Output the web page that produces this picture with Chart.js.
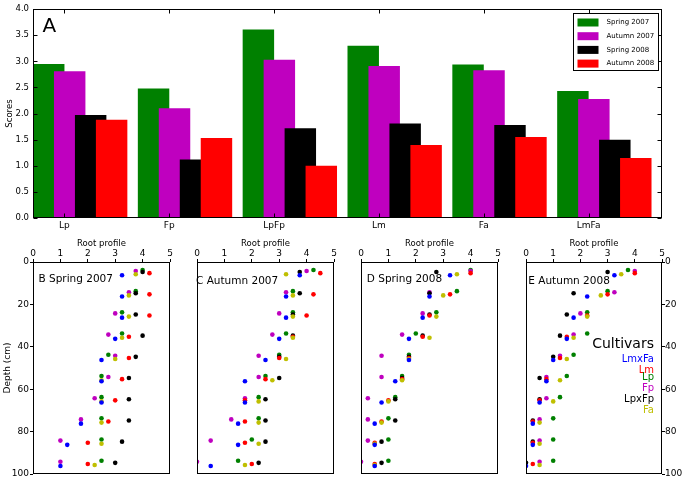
<!DOCTYPE html>
<html>
<head>
<meta charset="utf-8">
<script src="https://cdn.jsdelivr.net/npm/chart.js@4.4.1/dist/chart.umd.min.js"></script>
<style>
  body { margin: 0; background: #fff; }
  #wrap { position: relative; width: 685px; height: 481px; overflow: hidden; background: #fff;
          font-family: "DejaVu Sans", sans-serif; }
  #wrap canvas { position: absolute; }
  .lbl { position: absolute; line-height: 1; white-space: nowrap; color: #000; }
  .cult { position: absolute; right: 31px; line-height: 1; white-space: nowrap; font-size: 10px; text-align: right; }
</style>
</head>
<body>
<div id="wrap">
  <canvas id="barChart" width="685" height="240" style="left:0px;top:0px"></canvas>
  <canvas id="rootB" width="180" height="251" style="left:0px;top:230px"></canvas>
  <canvas id="rootC" width="165" height="251" style="left:180px;top:230px"></canvas>
  <canvas id="rootD" width="165" height="251" style="left:345px;top:230px"></canvas>
  <canvas id="rootE" width="175" height="251" style="left:510px;top:230px"></canvas>

  <div class="lbl" style="left:42.5px;top:15.2px;font-size:20px">A</div>
  <div class="lbl" style="left:38.5px;top:273.3px;font-size:10.5px">B Spring 2007</div>
  <div class="lbl" style="left:196px;top:274.8px;font-size:10.5px">C Autumn 2007</div>
  <div class="lbl" style="left:366.8px;top:273.3px;font-size:10.5px">D Spring 2008</div>
  <div class="lbl" style="left:528.3px;top:275px;font-size:10.5px">E Autumn 2008</div>

  <div class="cult" style="top:335.8px;font-size:14px">Cultivars</div>
  <div class="cult" style="top:353.5px;color:#0000ff">LmxFa</div>
  <div class="cult" style="top:364.7px;color:#ff0000">Lm</div>
  <div class="cult" style="top:372.4px;color:#008000">Lp</div>
  <div class="cult" style="top:382.7px;color:#bf00bf">Fp</div>
  <div class="cult" style="top:394.4px;color:#000000">LpxFp</div>
  <div class="cult" style="top:405.4px;color:#bfbf00">Fa</div>
</div>

<script>
// ---------- panel A : scores per cultivar and season ----------
const categories = ['Lp', 'Fp', 'LpFp', 'Lm', 'Fa', 'LmFa'];
const spring2007 = [2.95, 2.48, 3.61, 3.30, 2.94, 2.43];
const autumn2007 = [2.81, 2.10, 3.03, 2.91, 2.83, 2.28];
const spring2008 = [1.97, 1.12, 1.72, 1.81, 1.78, 1.50];
const autumn2008 = [1.88, 1.53, 1.00, 1.40, 1.55, 1.15];
const seasons = ['Spring 2007', 'Autumn 2007', 'Spring 2008', 'Autumn 2008'];
const seasonColors = ['#008000', '#bf00bf', '#000000', '#ff0000'];
const scoreTicks = [0, 0.5, 1, 1.5, 2, 2.5, 3, 3.5, 4];

// ---------- panels B-E : root profile by depth ----------
const depthLevels = [5, 15, 25, 35, 45, 55, 65, 75, 85, 95];
const depthTicks = [0, 20, 40, 60, 80, 100];
const rootTicks = [0, 1, 2, 3, 4, 5];
const cultivars = ['Lp', 'Fp', 'LpxFp', 'Lm', 'Fa', 'LmxFa'];
const cultivarColors = ['#008000', '#bf00bf', '#000000', '#ff0000', '#bfbf00', '#0000ff'];

// one row per cultivar, same order as `cultivars`
const rootsSpring2007 = [
  [4.0, 3.75, 3.25, 3.25, 2.75, 2.5, 2.5, 2.5, 2.5, 2.5],
  [3.75, 3.5, 3.0, 2.75, 3.0, 2.75, 2.25, 1.75, 1.0, 1.0],
  [4.0, 3.75, 3.75, 4.0, 3.75, 3.5, 3.5, 3.5, 3.25, 3.0],
  [4.25, 4.25, 4.25, 3.5, 3.5, 3.25, 3.0, 2.75, 2.0, 2.0],
  [3.75, 3.5, 3.5, 3.25, 3.0, 2.5, 2.5, 2.5, 2.5, 2.25],
  [3.25, 3.25, 3.25, 3.0, 2.5, 2.5, 2.5, 1.75, 1.25, 1.0]
];
const rootsAutumn2007 = [
  [4.25, 3.5, 3.5, 3.25, 3.0, 2.5, 2.25, 2.25, 2.0, 1.5],
  [4.0, 3.25, 3.0, 2.75, 2.25, 2.25, 1.75, 1.25, 0.5, 0.0],
  [3.75, 3.75, 3.5, 3.5, 3.0, 3.0, 2.5, 2.5, 2.5, 2.25],
  [4.5, 4.25, 4.0, 3.5, 3.0, 2.5, 1.75, 1.75, 1.75, 2.0],
  [3.25, 3.5, 3.5, 3.5, 3.25, 2.75, 2.25, 2.25, 2.25, 1.75],
  [3.75, 3.25, 3.25, 3.0, 2.5, 1.75, 1.75, 1.5, 1.5, 0.5]
];
const rootsSpring2008 = [
  [4.0, 3.5, 2.75, 2.0, 1.75, 1.5, 1.25, 1.0, 1.0, 1.0],
  [4.0, 2.5, 2.25, 1.5, 0.75, 0.75, 0.25, 0.25, 0.25, 0.0],
  [2.75, 2.5, 2.5, 2.25, 1.75, 1.5, 1.25, 1.25, 0.75, 0.75],
  [4.0, 3.25, 2.5, 2.25, 1.75, 1.5, 1.0, 0.75, 0.5, 0.5],
  [3.5, 3.0, 2.75, 2.5, 1.75, 1.5, 1.0, 0.75, 0.5, 0.5],
  [3.25, 2.5, 2.25, 1.75, 1.75, 1.25, 0.75, 0.5, 0.5, 0.5]
];
const rootsAutumn2008 = [
  [3.75, 3.0, 2.25, 2.25, 1.75, 1.5, 1.25, 1.0, 1.0, 1.0],
  [4.0, 3.25, 2.0, 1.75, 1.25, 0.75, 0.75, 0.5, 0.5, 0.5],
  [3.0, 1.75, 1.5, 1.25, 1.0, 0.5, 0.5, 0.25, 0.25, 0.0],
  [4.0, 3.0, 2.25, 1.5, 1.25, 0.75, 0.5, 0.25, 0.25, 0.25],
  [3.5, 2.75, 2.25, 1.75, 1.5, 1.25, 1.0, 0.5, 0.5, 0.5],
  [3.25, 2.25, 1.75, 1.5, 1.0, 0.75, 0.5, 0.25, 0.25, 0.0]
];

const FONT = '"DejaVu Sans", sans-serif';
// cultivars are shifted a bit in depth so the dots of one layer don't sit on each other
const dodge = k => (k - 2.5) * 0.5;

// box round the plot + matplotlib-like inward ticks
const framePlugin = {
  id: 'frame',
  afterDatasetsDraw(chart, args, opts) {
    const { ctx, chartArea: a, scales } = chart;
    const L = Math.round(a.left) + 0.5, R = Math.round(a.right) - 0.5;
    const T = Math.round(a.top) + 0.5, B = Math.round(a.bottom) - 0.5;
    ctx.save();
    ctx.strokeStyle = '#000';
    ctx.lineWidth = 1;
    if (opts.ticks) {
      ctx.beginPath();
      scales.x.ticks.forEach(t => {
        const px = Math.round(scales.x.getPixelForValue(t.value)) + 0.5;
        ctx.moveTo(px, T); ctx.lineTo(px, T + 4);
        ctx.moveTo(px, B); ctx.lineTo(px, B - 4);
      });
      scales.y.ticks.forEach(t => {
        const py = Math.round(scales.y.getPixelForValue(t.value)) + 0.5;
        ctx.moveTo(L, py); ctx.lineTo(L + 4, py);
        ctx.moveTo(R, py); ctx.lineTo(R - 4, py);
      });
      ctx.stroke();
    }
    ctx.strokeRect(L, T, R - L, B - T);
    ctx.restore();
  }
};

// boxed legend in the upper right corner of panel A
const boxLegend = {
  id: 'boxLegend',
  afterDraw(chart) {
    const { ctx, chartArea: a } = chart;
    const x0 = Math.round(a.right - 89) + 0.5, y0 = Math.round(a.top + 4) + 0.5;
    ctx.save();
    ctx.fillStyle = '#fff';
    ctx.fillRect(x0, y0, 85, 57);
    ctx.strokeStyle = '#000';
    ctx.lineWidth = 1;
    ctx.strokeRect(x0, y0, 85, 57);
    ctx.font = '7px ' + FONT;
    ctx.textBaseline = 'middle';
    chart.data.datasets.forEach((ds, i) => {
      const cy = y0 + 9 + i * 13.7;
      ctx.fillStyle = ds.backgroundColor;
      ctx.fillRect(x0 + 4, cy - 4, 21, 8);
      ctx.fillStyle = '#000';
      ctx.fillText(ds.label, x0 + 33, cy);
    });
    ctx.restore();
  }
};

const barSeries = [spring2007, autumn2007, spring2008, autumn2008];

new Chart(document.getElementById('barChart'), {
  type: 'bar',
  data: {
    datasets: barSeries.map((vals, j) => ({
      label: seasons[j],
      // bars of a group overlap: left edges 0.2 apart, 0.3 wide
      data: vals.map((v, i) => ({ x: i + 0.15 + j * 0.2, y: v })),
      backgroundColor: seasonColors[j],
      borderWidth: 0,
      grouped: false,
      categoryPercentage: 1,
      barPercentage: 1.5,
      order: barSeries.length - j
    }))
  },
  options: {
    responsive: false,
    animation: false,
    layout: { padding: { top: 6, right: 23, left: 0, bottom: 0 } },
    plugins: { legend: { display: false }, tooltip: { enabled: false }, frame: { ticks: true } },
    scales: {
      x: {
        type: 'linear', min: 0, max: 6, offset: false,
        afterBuildTicks: s => { s.ticks = categories.map((c, i) => ({ value: i + 0.3 })); },
        ticks: { callback: (v, i) => categories[i], autoSkip: false, maxRotation: 0, padding: 2,
                 color: '#000', font: { family: FONT, size: 9 } },
        grid: { display: false, drawTicks: false },
        border: { display: false },
        afterFit: s => { s.height = 22; }
      },
      y: {
        min: 0, max: 4,
        afterBuildTicks: s => { s.ticks = scoreTicks.map(v => ({ value: v })); },
        ticks: { callback: v => v.toFixed(1), padding: 4, color: '#000', font: { family: FONT, size: 8.5 } },
        grid: { display: false, drawTicks: false },
        border: { display: false },
        title: { display: true, text: 'Scores', color: '#000', font: { family: FONT, size: 8.5 },
                 padding: { top: 5, bottom: 0 } },
        afterFit: s => { s.width = 33; }
      }
    }
  },
  plugins: [framePlugin, boxLegend]
});

// outward tick marks only, no grid inside the plot
const outTicks = { display: true, drawOnChartArea: false, drawTicks: true, tickLength: 3, color: '#000', lineWidth: 1 };

function rootPanel(canvasId, roots, o) {
  new Chart(document.getElementById(canvasId), {
    type: 'scatter',
    data: {
      datasets: cultivars.map((c, k) => ({
        label: c,
        data: roots[k].map((v, d) => ({ x: v, y: depthLevels[d] + dodge(k) })),
        backgroundColor: cultivarColors[k],
        borderWidth: 0,
        pointRadius: 2.3,
        order: cultivars.length - k
      }))
    },
    options: {
      responsive: false,
      animation: false,
      layout: { padding: { top: 0, bottom: 7, left: o.padLeft, right: o.padRight } },
      plugins: { legend: { display: false }, tooltip: { enabled: false }, frame: { ticks: false } },
      scales: {
        x: {
          type: 'linear', position: 'top', min: 0, max: 5,
          afterBuildTicks: s => { s.ticks = rootTicks.map(v => ({ value: v })); },
          ticks: { padding: 0, color: '#000', font: { family: FONT, size: 9 } },
          grid: outTicks,
          border: { display: false },
          title: { display: true, text: 'Root profile', color: '#000', font: { family: FONT, size: 8.5 },
                   padding: { top: 9, bottom: 0 } },
          afterFit: s => { s.height = 32; }
        },
        y: {
          type: 'linear', position: o.yPos, reverse: true, min: 0, max: 100,
          afterBuildTicks: s => { s.ticks = depthTicks.map(v => ({ value: v })); },
          ticks: { display: o.yLabels, padding: o.yPad, color: '#000', font: { family: FONT, size: 9 } },
          grid: o.yLabels ? outTicks : { display: false, drawTicks: false },
          border: { display: false },
          title: { display: o.yTitle, text: 'Depth (cm)', color: '#000', font: { family: FONT, size: 9 },
                   padding: { top: 2, bottom: 0 } },
          afterFit: s => { s.width = o.yWidth; }
        }
      }
    },
    plugins: [framePlugin]
  });
}

rootPanel('rootB', rootsSpring2007, { padLeft: 0, padRight: 10, yPos: 'left', yLabels: true, yTitle: true, yPad: 1, yWidth: 33 });
rootPanel('rootC', rootsAutumn2007, { padLeft: 17, padRight: 11, yPos: 'left', yLabels: false, yTitle: false, yPad: 0, yWidth: 0 });
rootPanel('rootD', rootsSpring2008, { padLeft: 16, padRight: 12, yPos: 'left', yLabels: false, yTitle: false, yPad: 0, yWidth: 0 });
rootPanel('rootE', rootsAutumn2008, { padLeft: 16, padRight: 0, yPos: 'right', yLabels: true, yTitle: false, yPad: 0, yWidth: 23 });
</script>
</body>
</html>
